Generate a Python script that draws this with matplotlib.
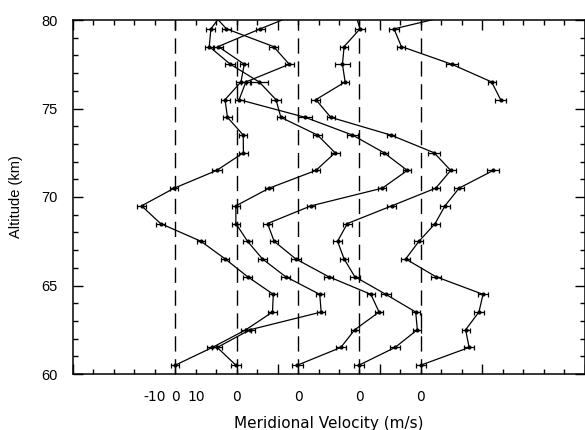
import matplotlib
matplotlib.use("Agg")
import matplotlib.pyplot as plt

# altitudes of the measurements (km)
altitude = [60.5, 61.5, 62.5, 63.5, 64.5, 65.5, 66.5, 67.5, 68.5, 69.5, 70.5,
            71.5, 72.5, 73.5, 74.5, 75.5, 76.5, 77.5, 78.5, 79.5, 80.5]

# each profile is shifted right by this amount (m/s)
offsets = [0, 30, 60, 90, 120]

nan = float("nan")

# meridional velocity profiles (m/s)
v1 = [0.0, 18.1, 34.5, 47.5, 47.9, 35.3, 24.4, 12.5, -7.2, -16.5, -0.5,
      20.2, 33.3, 33.2, 25.5, 24.3, 32.1, 33.7, 21.0, 41.5, 63.0]
v2 = [-0.4, -9.5, 6.5, 41.3, 40.6, 23.9, 12.6, 5.3, -0.4, -0.4, 15.9,
      38.7, 48.1, 39.5, 21.6, 19.2, 11.0, -3.1, -13.4, -12.6, -6.1]
v3 = [-0.3, 20.9, 27.7, 39.6, 35.6, 14.9, -1.1, -11.7, -14.9, 6.3, 41.2,
      53.4, 42.0, 26.6, 3.5, -28.8, -25.5, -4.3, -12.0, -35.0, -42.9]
v4 = [-0.2, 17.4, 28.3, 27.5, 12.9, -2.3, -7.5, -10.7, -5.9, 15.8, 37.3,
      44.6, 36.5, 15.3, -14.0, -21.3, -7.0, -8.3, -7.5, 0.3, -2.4]
v5 = [0.0, 23.6, 21.9, 28.4, 30.4, 7.3, -7.4, -0.9, 7.0, 11.8, 18.7,
      35.4, nan, nan, nan, 39.0, 34.6, 15.1, -9.5, -13.1, 23.4]

# error bar half widths (m/s)
e1 = [2.0, 2.5, 2.5, 2.0, 2.0, 2.0, 2.0, 2.0, 2.0, 2.0, 2.0,
      2.5, 2.0, 2.0, 2.2, 2.2, 2.5, 2.0, 2.5, 2.2, 2.2]
e2 = [2.5, 2.5, 2.5, 2.0, 2.0, 2.0, 2.0, 2.0, 2.0, 2.0, 2.0,
      2.0, 2.2, 2.0, 2.0, 2.6, 4.2, 2.5, 2.2, 2.2, 2.2]
e3 = [2.5, 2.5, 2.0, 2.0, 2.0, 2.0, 2.5, 2.0, 2.0, 2.0, 2.0,
      2.0, 2.0, 2.5, 3.5, 2.2, 2.2, 2.2, 2.2, 2.2, 2.2]
e4 = [2.5, 2.5, 2.0, 2.0, 2.5, 2.5, 2.0, 2.2, 2.2, 2.2, 2.0,
      2.5, 3.0, 2.0, 2.0, 2.2, 2.0, 3.5, 2.0, 2.5, 2.0]
e5 = [2.5, 2.5, 2.0, 2.5, 2.5, 2.5, 2.2, 2.2, 2.2, 2.5, 2.5,
      3.0, nan, nan, nan, 2.5, 2.0, 3.0, 2.0, 2.5, 2.0]

profiles = [v1, v2, v3, v4, v5]
errors = [e1, e2, e3, e4, e5]

# labels printed under the x axis
xlabel_pos = [-10, 0, 10, 30, 60, 90, 120]
xlabel_txt = ["-10", "0", "10", "0", "0", "0", "0"]

fig = plt.figure(figsize=(5.85, 4.30), dpi=100)
ax = fig.add_axes([73 / 585, 1 - 374 / 430, 511.5 / 585, 354 / 430])

for off in offsets:
    ax.axvline(off, color="black", lw=1.0, dashes=(11, 5.5))

for v, e, off in zip(profiles, errors, offsets):
    x = [val + off for val in v]
    ax.errorbar(x, altitude, xerr=e, color="black", lw=0.9,
                marker="o", ms=2.0, capsize=1.8, elinewidth=0.9,
                capthick=0.9)

ax.set_xlim(-50, 200)
ax.set_ylim(60, 80)

ax.set_xticks(range(-50, 201, 50))
ax.set_xticks(range(-50, 201, 10), minor=True)
ax.set_yticks(range(60, 81, 5))
ax.set_yticks(range(60, 81, 1), minor=True)
ax.set_xticklabels([])
ax.tick_params(which="both", direction="in", top=True, right=True,
               width=1.0, color="black")
ax.tick_params(which="major", length=7)
ax.tick_params(which="minor", length=3.5)
ax.tick_params(axis="y", which="major", length=7.5, pad=11,
               labelsize=10.5)
for lab in ax.get_yticklabels():
    lab.set_family("Liberation Sans")

for s in ax.spines.values():
    s.set_linewidth(1.1)

for pos, txt in zip(xlabel_pos, xlabel_txt):
    ax.text(pos, -0.065, txt, transform=ax.get_xaxis_transform(),
            ha="center", va="center", fontsize=10, family="DejaVu Sans")

ax.set_xlabel("Meridional Velocity (m/s)", fontsize=11, family="DejaVu Sans")
ax.xaxis.set_label_coords(0.5, -0.118)
ax.set_ylabel("Altitude (km)", fontsize=10.5, family="Liberation Sans")
ax.yaxis.set_label_coords(-0.097, 0.5)

fig.savefig("out.png", dpi=100)
